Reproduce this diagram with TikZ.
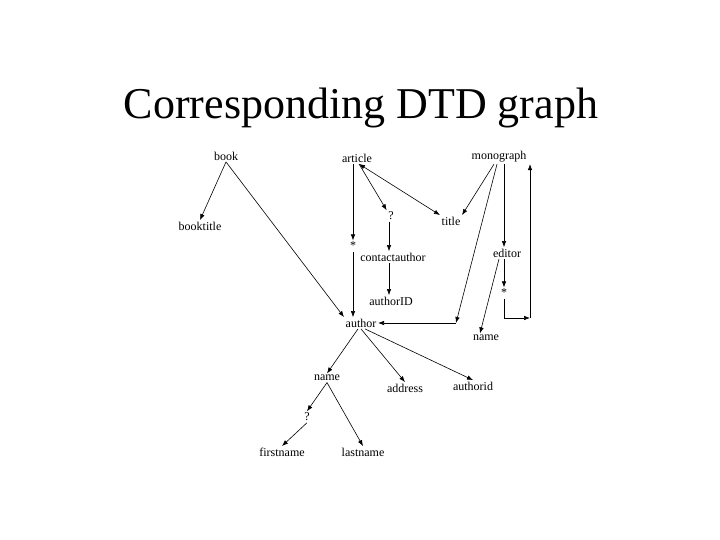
\documentclass[tikz,border=0pt]{standalone}
\usepackage{fontspec}
\setmainfont{Liberation Serif}
\usetikzlibrary{arrows.meta}
\begin{document}
\begin{tikzpicture}[x=1pt,y=-1pt,
  lbl/.style={font=\fontsize{12}{14}\selectfont, inner sep=1.5pt},
  arr/.style={-{Latex[length=6pt,width=4.5pt]}, line width=0.6pt},
  ln/.style={line width=0.6pt}]
\useasboundingbox (0,0) rectangle (720,540);
\node[font=\fontsize{44}{50}\selectfont, anchor=base, inner sep=0pt] (ttl) at (361,119) {Corresponding DTD graph};
% nodes
\node[lbl] (book) at (226,156) {book};
\node[lbl] (article) at (357,158) {article};
\node[lbl] (monograph) at (499,157) {monograph};
\node[lbl] (booktitle) at (200,226) {booktitle};
\node[lbl] (q1) at (391,216) {?};
\node[lbl] (title) at (451,221) {title};
\node[lbl] (star1) at (353,246) {*};
\node[lbl] (contactauthor) at (393,257) {contactauthor};
\node[lbl] (editor) at (507,253) {editor};
\node[lbl] (authorID) at (391,301) {authorID};
\node[lbl] (star2) at (504,293) {*};
\node[lbl] (author) at (361,323) {author};
\node[lbl] (name2) at (486,338) {name};
\node[lbl] (name1) at (327,378) {name};
\node[lbl] (address) at (405,388) {address};
\node[lbl] (authorid) at (473,386) {authorid};
\node[lbl] (q2) at (307,417) {?};
\node[lbl] (firstname) at (282,452) {firstname};
\node[lbl] (lastname) at (363,452) {lastname};
% coordinates for routed connectors
\coordinate (c1) at (456,323);
\coordinate (c2) at (504,318);
\coordinate (c3) at (530,318);
% edges
\draw[arr] (book.south) -- (booktitle.north);
\draw[arr] (book.south) -- (author.north west);
\draw[arr] ([xshift=-4pt]article.south) -- (star1);
\draw[arr] (star1) -- (star1 |- author.north);
\draw[{Latex[length=6pt,width=4.5pt]}-{Latex[length=6pt,width=4.5pt]}, ln] ([xshift=2pt]article.south) -- (title.north west);
\draw[arr] ([xshift=2pt]article.south) -- (q1.north west);
\draw[arr] ([xshift=-2pt]q1.south) -- ([xshift=-2pt]q1.south |- contactauthor.north);
\draw[arr] ([xshift=-4pt]contactauthor.south) -- ([xshift=-4pt]contactauthor.south |- authorID.north);
\draw[arr] ([xshift=-5pt]monograph.south) -- (title.north east);
\draw[arr] ([xshift=-2pt]monograph.south) -- (c1);
\draw[arr] (c1) -- (author.east);
\draw[arr] ([xshift=5pt]monograph.south) -- ([xshift=5pt]monograph.south |- editor.north);
\draw[arr] ([xshift=-8pt]editor.south) -- ([xshift=-6pt]name2.north);
\draw[arr] (editor.south -| star2) -- (star2);
\draw[ln] (star2) -- (c2);
\draw[arr] (c2) -- (c3);
\draw[arr] (c3) -- (c3 |- monograph.south);
\draw[arr] ([xshift=-3pt]author.south) -- (name1.north);
\draw[arr] (author.south) -- (address.north);
\draw[arr] ([xshift=4pt]author.south) -- (authorid.north);
\draw[arr] (name1.south) -- (q2.north);
\draw[arr] (q2.south) -- (firstname.north);
\draw[arr] (name1.south) -- (lastname.north);
\end{tikzpicture}
\end{document}
